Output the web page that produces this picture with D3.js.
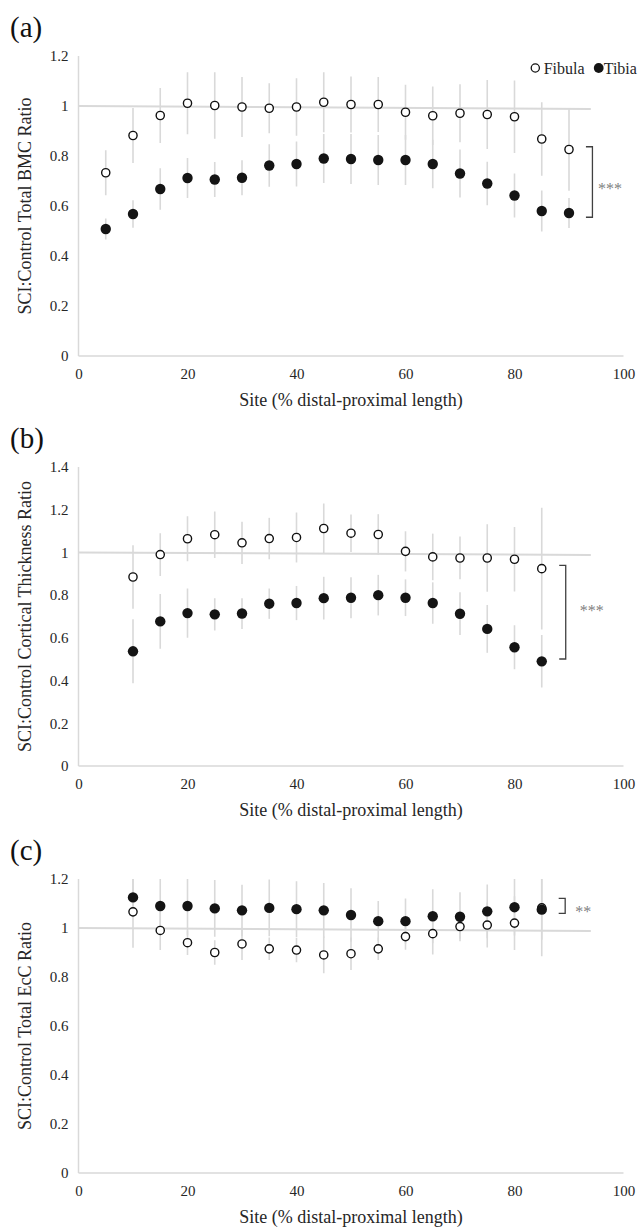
<!DOCTYPE html>
<html>
<head>
<meta charset="utf-8">
<script src="https://cdn.jsdelivr.net/npm/d3@7"></script>
<style>
	body { margin: 0; background: #fff; }
	svg text { font-family: "Liberation Serif", "Times New Roman", serif; }
</style>
</head>
<body>
<svg id="chart" width="644" height="1228"></svg>
<script>

// Sites (% distal-proximal length)
var sitesA = [5, 10, 15, 20, 25, 30, 35, 40, 45, 50, 55, 60, 65, 70, 75, 80, 85, 90];
var sitesBC = [10, 15, 20, 25, 30, 35, 40, 45, 50, 55, 60, 65, 70, 75, 80, 85];

// (a) Total BMC ratio
var fibulaA = [0.733, 0.882, 0.962, 1.011, 1.002, 0.996, 0.991, 0.996, 1.015, 1.006, 1.006, 0.975, 0.961, 0.971, 0.966, 0.957, 0.868, 0.826];
var fibulaErrA = [0.09, 0.11, 0.11, 0.124, 0.133, 0.12, 0.10, 0.115, 0.12, 0.112, 0.11, 0.11, 0.117, 0.116, 0.138, 0.145, 0.147, 0.165];
var tibiaA = [0.508, 0.568, 0.668, 0.712, 0.706, 0.713, 0.762, 0.768, 0.79, 0.788, 0.784, 0.784, 0.768, 0.73, 0.69, 0.642, 0.58, 0.572];
var tibiaErrA = [0.042, 0.055, 0.083, 0.08, 0.07, 0.07, 0.085, 0.09, 0.098, 0.1, 0.1, 0.1, 0.097, 0.096, 0.087, 0.088, 0.082, 0.06];

// (b) Cortical thickness ratio
var fibulaB = [0.885, 0.99, 1.064, 1.083, 1.045, 1.065, 1.07, 1.112, 1.09, 1.084, 1.005, 0.979, 0.974, 0.974, 0.968, 0.924];
var fibulaErrB = [0.149, 0.10, 0.105, 0.109, 0.099, 0.097, 0.117, 0.117, 0.088, 0.095, 0.094, 0.109, 0.10, 0.158, 0.151, 0.285];
var tibiaB = [0.537, 0.677, 0.716, 0.71, 0.714, 0.76, 0.763, 0.786, 0.788, 0.8, 0.788, 0.763, 0.713, 0.642, 0.556, 0.49];
var tibiaErrB = [0.15, 0.128, 0.115, 0.076, 0.072, 0.071, 0.08, 0.10, 0.096, 0.095, 0.086, 0.097, 0.10, 0.112, 0.103, 0.123];

// (c) Total EcC ratio
var fibulaC = [1.066, 0.99, 0.94, 0.9, 0.935, 0.915, 0.91, 0.89, 0.895, 0.915, 0.965, 0.977, 1.006, 1.012, 1.02, 1.082];
var fibulaErrC = [0.147, 0.08, 0.05, 0.05, 0.066, 0.046, 0.05, 0.075, 0.066, 0.046, 0.054, 0.085, 0.05, 0.092, 0.11, 0.13];
var tibiaC = [1.125, 1.09, 1.09, 1.08, 1.072, 1.082, 1.077, 1.072, 1.053, 1.028, 1.028, 1.048, 1.046, 1.068, 1.085, 1.075];
var tibiaErrC = [0.08, 0.12, 0.12, 0.116, 0.105, 0.116, 0.114, 0.112, 0.109, 0.082, 0.092, 0.11, 0.1, 0.11, 0.116, 0.19];

// Axes
var xTicks = [0, 20, 40, 60, 80, 100];
var yTicksA = [0, 0.2, 0.4, 0.6, 0.8, 1, 1.2];
var yTicksB = [0, 0.2, 0.4, 0.6, 0.8, 1, 1.2, 1.4];
var yTicksC = [0, 0.2, 0.4, 0.6, 0.8, 1, 1.2];

// Reference line (site, ratio)
var refLine = [[0, 1.0], [94, 0.988]];

// Significance brackets (site, top, bottom)
var bracketSite = [94.3, 89.4, 89.3];
var bracketTop = [0.837, 0.939, 1.121];
var bracketBottom = [0.555, 0.501, 1.06];
var bracketStars = ["***", "***", "**"];

var panelLabels = ["(a)", "(b)", "(c)"];
var yTitles = ["SCI:Control Total BMC Ratio", "SCI:Control Cortical Thickness Ratio", "SCI:Control Total EcC Ratio"];
var xTitle = "Site (% distal-proximal length)";
var seriesNames = ["Fibula", "Tibia"];

var panels = [
	{ top: 56, bottom: 356, yTicks: yTicksA, sites: sitesA, fib: fibulaA, fibErr: fibulaErrA, tib: tibiaA, tibErr: tibiaErrA, starDx: 5.5, starDy: 12 },
	{ top: 467, bottom: 766, yTicks: yTicksB, sites: sitesBC, fib: fibulaB, fibErr: fibulaErrB, tib: tibiaB, tibErr: tibiaErrB, starDx: 14, starDy: 4 },
	{ top: 879, bottom: 1173, yTicks: yTicksC, sites: sitesBC, fib: fibulaC, fibErr: fibulaErrC, tib: tibiaC, tibErr: tibiaErrC, starDx: 10, starDy: 11 }
];

var svg = d3.select("#chart");
var grey = "#d9d9d9";
var textColor = "#262626";

var x = d3.scaleLinear().domain([0, 100]).range([78.5, 623.5]);

panels.forEach(function (p, i) {

	var yMax = p.yTicks[p.yTicks.length - 1];
	var y = d3.scaleLinear().domain([0, yMax]).range([p.bottom, p.top]);

	var g = svg.append("g");

	g.append("clipPath").attr("id", "clip" + i)
	.append("rect")
	.attr("x", x(0)).attr("y", p.top)
	.attr("width", x(100) - x(0)).attr("height", p.bottom - p.top);

	// Panel letter
	g.append("text")
	.attr("x", 10).attr("y", p.top - 19)
	.style("font-size", "29px").style("fill", "#111")
	.text(panelLabels[i]);

	// Axis lines
	g.append("line")
	.attr("x1", x(0)).attr("x2", x(0)).attr("y1", y(yMax)).attr("y2", y(0))
	.style("stroke", grey).style("stroke-width", 1.5);
	g.append("line")
	.attr("x1", x(0)).attr("x2", x(100)).attr("y1", y(0)).attr("y2", y(0))
	.style("stroke", grey).style("stroke-width", 1.5);

	// Tick labels
	var yAxis = g.append("g").attr("transform", "translate(" + x(0) + ",0)")
	.call(d3.axisLeft(y).tickValues(p.yTicks).tickSize(0).tickPadding(10).tickFormat(d3.format("~g")));
	var xAxis = g.append("g").attr("transform", "translate(0," + y(0) + ")")
	.call(d3.axisBottom(x).tickValues(xTicks).tickSize(0).tickPadding(12.3).tickFormat(d3.format("d")));

	[yAxis, xAxis].forEach(function (a) {
		a.select(".domain").remove();
		a.selectAll("text")
		.style("font-family", "\"Liberation Serif\", serif")
		.style("font-size", "15px")
		.style("fill", textColor);
	});

	// Axis titles
	g.append("text")
	.attr("x", (x(0) + x(100)) / 2).attr("y", y(0) + 50)
	.attr("text-anchor", "middle")
	.style("font-size", "18px").style("fill", textColor)
	.text(xTitle);

	g.append("text")
	.attr("transform", "translate(31," + ((p.top + p.bottom) / 2) + ") rotate(-90)")
	.attr("text-anchor", "middle")
	.style("font-size", "18px").style("fill", textColor)
	.text(yTitles[i]);

	var plot = g.append("g").attr("clip-path", "url(#clip" + i + ")");

	// Error bars
	[[p.fib, p.fibErr], [p.tib, p.tibErr]].forEach(function (s) {
		plot.selectAll(null)
		.data(p.sites)
		.enter().append("line")
		.attr("x1", function (d) { return x(d); })
		.attr("x2", function (d) { return x(d); })
		.attr("y1", function (d, j) { return y(s[0][j] + s[1][j]); })
		.attr("y2", function (d, j) { return y(s[0][j] - s[1][j]); })
		.style("stroke", grey).style("stroke-width", 1.6);
	});

	// Reference line at 1
	plot.append("line")
	.attr("x1", x(refLine[0][0])).attr("y1", y(refLine[0][1]))
	.attr("x2", x(refLine[1][0])).attr("y2", y(refLine[1][1]))
	.style("stroke", grey).style("stroke-width", 2);

	// Fibula (open) then Tibia (filled)
	plot.selectAll(null)
	.data(p.sites)
	.enter().append("circle")
	.attr("cx", function (d) { return x(d); })
	.attr("cy", function (d, j) { return y(p.fib[j]); })
	.attr("r", 4.1)
	.style("fill", "#fff").style("stroke", "#111").style("stroke-width", 1.4);

	plot.selectAll(null)
	.data(p.sites)
	.enter().append("circle")
	.attr("cx", function (d) { return x(d); })
	.attr("cy", function (d, j) { return y(p.tib[j]); })
	.attr("r", 5.2)
	.style("fill", "#141414");

	// Significance bracket
	var bx = x(bracketSite[i]);
	var by1 = y(bracketTop[i]);
	var by2 = y(bracketBottom[i]);
	g.append("path")
	.attr("d", "M" + (bx - 6.5) + "," + by1 + "H" + bx + "V" + by2 + "H" + (bx - 6.5))
	.style("fill", "none").style("stroke", "#404040").style("stroke-width", 1.3);

	g.append("text")
	.attr("x", bx + p.starDx).attr("y", (by1 + by2) / 2 + p.starDy)
	.style("font-size", "16px").style("fill", "#7f7f7f")
	.text(bracketStars[i]);

	// Legend (panel a only)
	if (i == 0) {
		var legend = g.append("g");
		legend.append("circle").attr("cx", 535.3).attr("cy", 68).attr("r", 4.1)
		.style("fill", "#fff").style("stroke", "#111").style("stroke-width", 1.3);
		legend.append("text").attr("x", 543.7).attr("y", 73.5)
		.style("font-size", "16px").style("fill", textColor).text(seriesNames[0]);
		legend.append("circle").attr("cx", 598.7).attr("cy", 68).attr("r", 4.9)
		.style("fill", "#141414");
		legend.append("text").attr("x", 603.7).attr("y", 73.5)
		.style("font-size", "16px").style("fill", textColor).text(seriesNames[1]);
	}
});

</script>
</body>
</html>
